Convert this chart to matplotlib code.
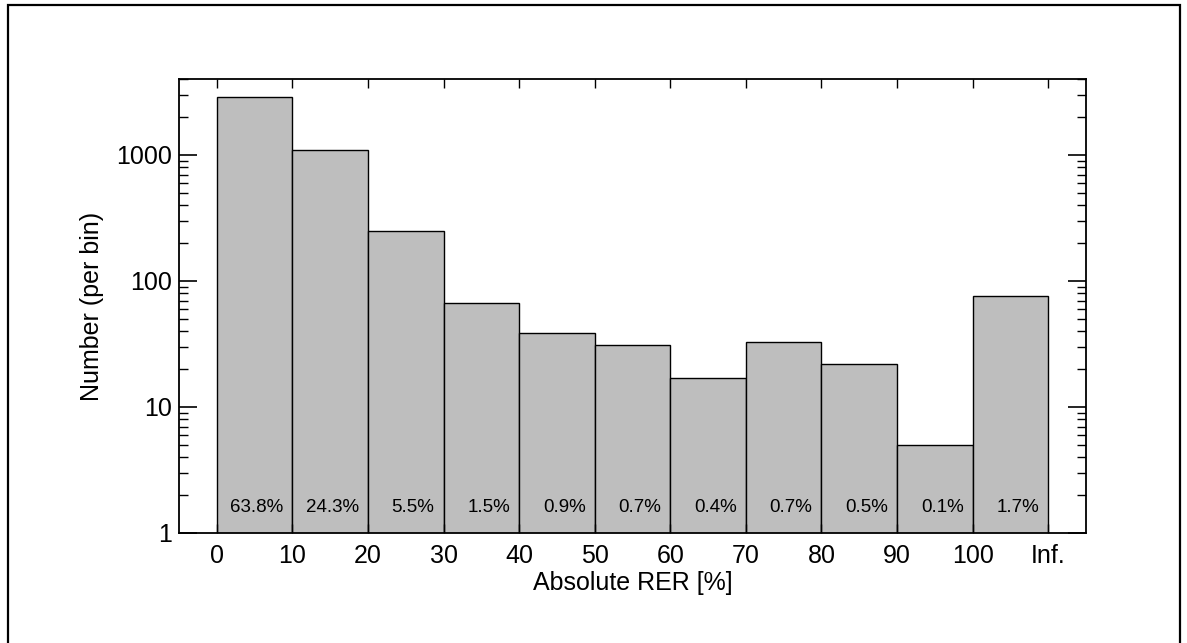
"""Histogram of absolute RER per 10% bin, log-scaled counts with percentage labels."""

import matplotlib

matplotlib.use("Agg")
import matplotlib.pyplot as plt
import matplotlib.patches as mpatches
import matplotlib.transforms as mtransforms
import numpy as np

plt.rcParams["font.family"] = ["Liberation Sans", "DejaVu Sans"]

# Bin edges shown on the x axis (last bin is open-ended: 100 .. Inf.)
EDGE_LABELS = ["0", "10", "20", "30", "40", "50", "60", "70", "80", "90", "100", "Inf."]
# Number of objects per bin
COUNTS = [2875, 1095, 249, 67, 39, 31, 17, 33, 22, 5, 76]

BAR_COLOR = "#bebebe"

counts = np.array(COUNTS, dtype=float)
share = 100.0 * counts / counts.sum()
left_edges = np.arange(len(counts))

fig = plt.figure(figsize=(11.87, 6.43), dpi=100)
ax = fig.add_axes([179 / 1187, 1 - 533 / 643, (1086 - 179) / 1187, (533 - 79) / 643])

ax.bar(left_edges, counts, width=1.0, align="edge", color=BAR_COLOR,
       edgecolor="black", linewidth=1.0, log=True, zorder=1)

ax.set_yscale("log")
ax.set_ylim(1, 10 ** (454 / 126))
ax.set_xlim(-0.5, len(counts) + 0.5)

ax.set_xticks(np.arange(len(EDGE_LABELS)))
ax.set_xticklabels(EDGE_LABELS)
ax.set_yticks([1, 10, 100, 1000])
ax.set_yticklabels(["1", "10", "100", "1000"])

ax.tick_params(axis="x", which="major", direction="in", length=6.5, width=1.0,
               top=True, bottom=True, labelsize=18, pad=8)
ax.tick_params(axis="x", which="minor", bottom=False, top=False)
ax.tick_params(axis="y", which="major", direction="in", length=13, width=1.2,
               left=True, right=True, labelsize=18, pad=5)
ax.tick_params(axis="y", which="minor", direction="in", length=6.5, width=1.0,
               left=True, right=True)
for sp in ax.spines.values():
    sp.set_linewidth(1.3)

ax.set_xlabel("Absolute RER [%]", fontsize=18)
ax.xaxis.set_label_coords(0.5, (533 - 590) / 454)
ax.xaxis.label.set_verticalalignment("baseline")
ax.set_ylabel("Number (per bin)", fontsize=18)
ax.yaxis.set_label_coords((91.7 - 179) / 907, 0.5)
ax.yaxis.label.set_verticalalignment("center")

# Percentage of the total, right-aligned inside each bar near the bottom
trans = mtransforms.blended_transform_factory(ax.transData, ax.transAxes)
for x0, pct in zip(left_edges, share):
    ax.text(x0 + 1 - 0.12, (533 - 511.7) / 454, f"{pct:.1f}%", transform=trans,
            ha="right", va="baseline", fontsize=13.5, zorder=3)

# Outer frame around the whole plot
frame = mpatches.Rectangle((8 / 1187, -0.05), (1180 - 8) / 1187, 1.05 - 5 / 643,
                           transform=fig.transFigure, fill=False,
                           edgecolor="black", linewidth=1.6)
fig.patches.append(frame)

fig.savefig("out.png", dpi=100)
